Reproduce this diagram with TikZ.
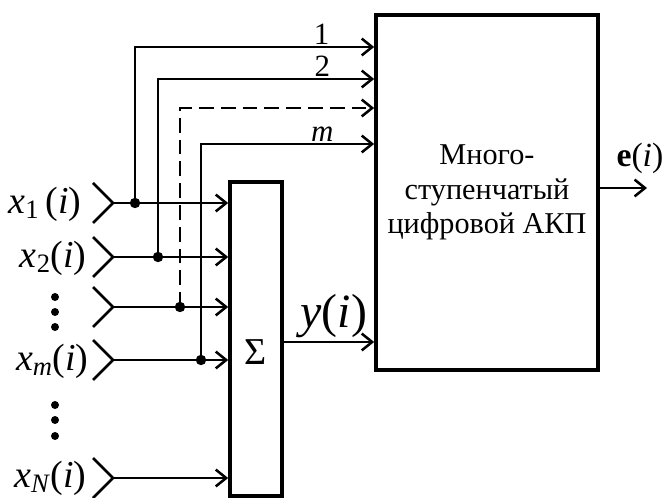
\documentclass[tikz,border=0pt]{standalone}
\usepackage{fontspec}
\setmainfont{Liberation Serif}
\usetikzlibrary{arrows.meta,positioning}

\begin{document}
\begin{tikzpicture}[x=0.025cm,y=-0.025cm,
 line width=2pt,
 blk/.style={draw,line width=2.6pt,inner sep=0pt},
 a/.style={-{Straight Barb[length=2.6mm,width=4.2mm,line width=1.8pt]}},
 pt/.style={circle,fill,inner sep=0pt,minimum size=2.6mm},
 lab/.style={anchor=east,inner sep=0pt,font=\fontsize{27}{29}\selectfont},
 num/.style={above,inner sep=1pt,font=\fontsize{22}{24}\selectfont}]
 \useasboundingbox (0,0) rectangle (664,498);
 % blocks
 \node[blk,minimum width=5.55cm,minimum height=8.875cm,align=center,
 font=\fontsize{21.5}{24.5}\selectfont] (akp) at (487,192.5)
 {Много-\\ступенчатый\\цифровой АКП};
 \node[blk,minimum width=1.3cm,minimum height=7.85cm] (sum) at (256,339) {};
 \node[font=\fontsize{27}{29}\selectfont,yshift=-0.33cm] (sig) at (sum.center) {Σ};
 % inputs
 \foreach \n/\yy in {1/203,2/257,3/307,m/360,N/478} {
 \coordinate (in\n) at (113,\yy);
 \draw (93,\yy-20) -- (in\n) -- (93,\yy+20);
 \draw[a] (in\n) -- (in\n -| sum.west);
 }
 \node[lab] (l1) at (83,204) {\textit{x}\textsubscript{1}\,(\textit{i})};
 \node[lab] (l2) at (88,258) {\textit{x}\textsubscript{2}(\textit{i})};
 \node[lab] (lm) at (90,361) {\textit{x}\textsubscript{\textit{m}}(\textit{i})};
 \node[lab] (lN) at (88,478) {\textit{x}\textsubscript{\textit{N}}(\textit{i})};
 \foreach \yy in {297,312,327,405,420,436} \fill (55,\yy) circle (4);
 % taps to the converter
 \node[pt] (d1) at (135,203) {};
 \node[pt] (d2) at (158,257) {};
 \node[pt] (d3) at (180,307) {};
 \node[pt] (dm) at (201,360) {};
 \draw[a] (d1.center) |- node[num,pos=0.89] {1} (akp.west |- 0,47);
 \draw[a] (d2.center) |- node[num,pos=0.88] {2} (akp.west |- 0,79);
 \draw[a,dash pattern=on 10.5pt off 5pt] (d3.center) |- (akp.west |- 0,108);
 \draw[a] (dm.center) |- node[num,pos=0.85] {\textit{m}} (akp.west |- 0,144);
 % sum output and converter output
 \draw[a] (sum.east |- 0,342) -- node[above,xshift=0.12cm,inner sep=2pt,font=\fontsize{34}{36}\selectfont]
 {\textit{y}(\textit{i})} (akp.west |- 0,342);
 \coordinate (out) at (647,188);
 \draw[a] (akp.east |- out) -- node[above,pos=0.85,inner sep=9pt,font=\fontsize{24}{26}\selectfont]
 {\textbf{e}(\textit{i})} (out);
\end{tikzpicture}
\end{document}
